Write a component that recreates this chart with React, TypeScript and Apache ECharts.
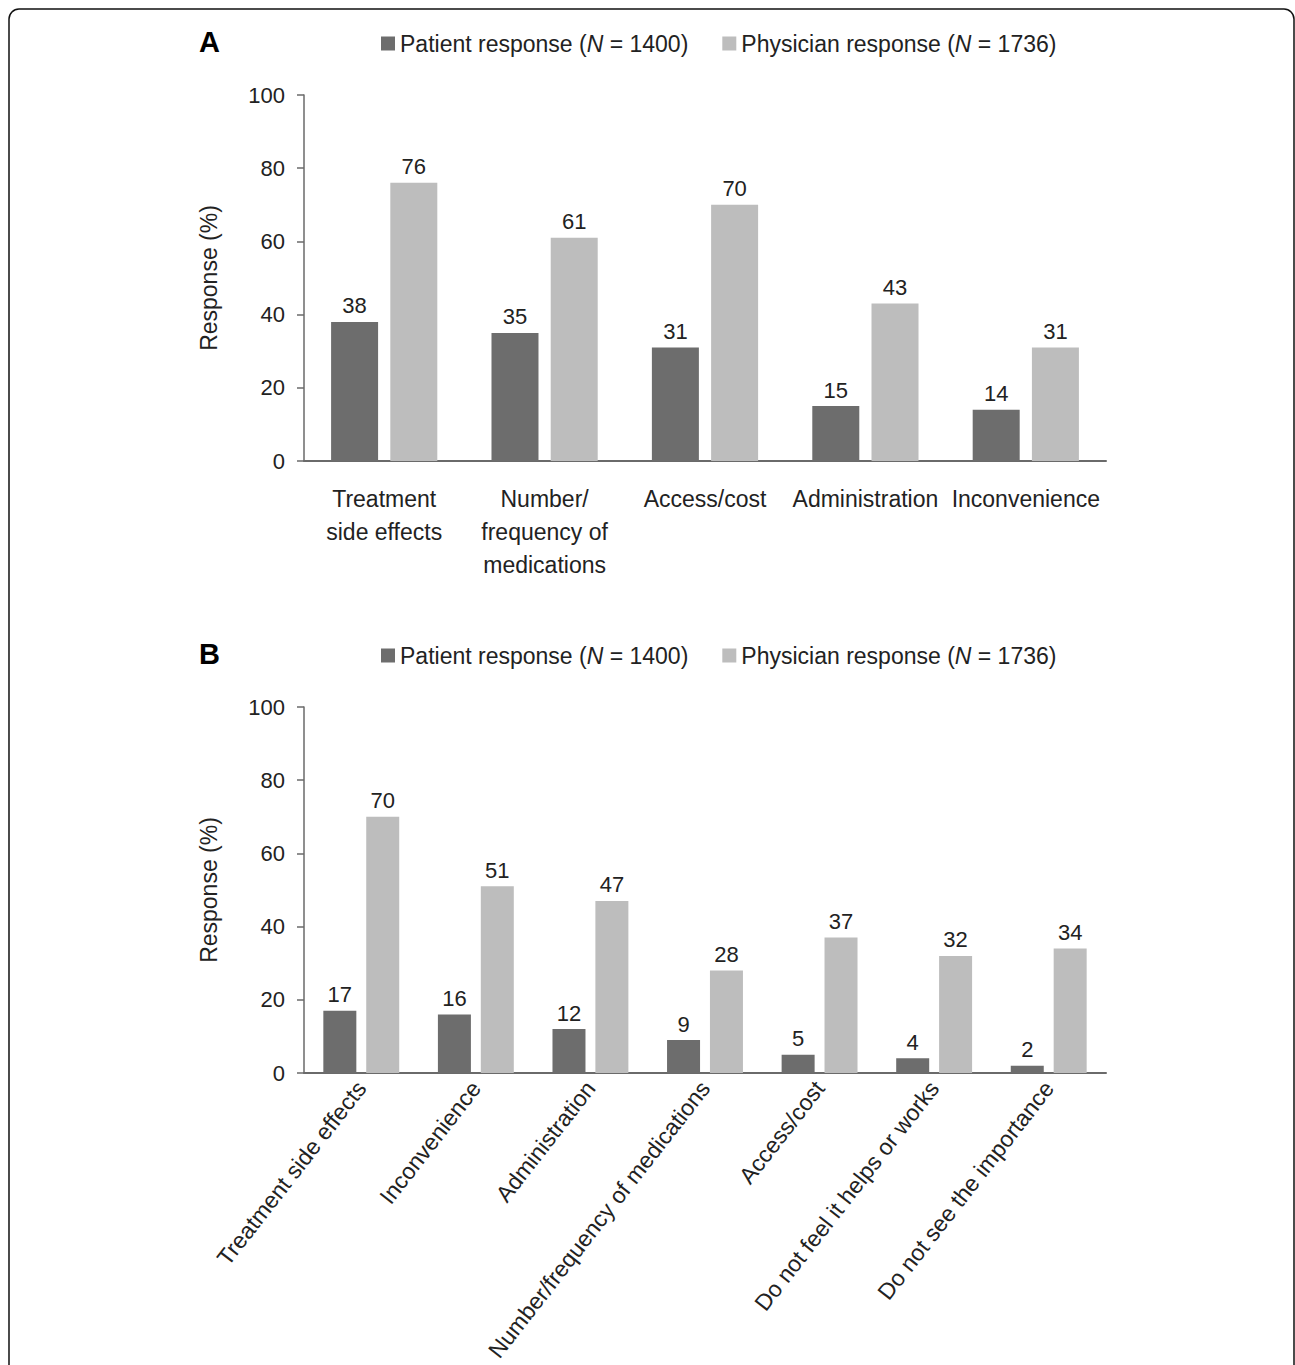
import React, { useEffect, useRef } from "react";
import * as echarts from "echarts";

const seriesNames = ["Patient response (N = 1400)", "Physician response (N = 1736)"];

const categoriesA = [
  "Treatment\nside effects",
  "Number/\nfrequency of\nmedications",
  "Access/cost",
  "Administration",
  "Inconvenience",
];
const patientA = [38, 35, 31, 15, 14];
const physicianA = [76, 61, 70, 43, 31];

const categoriesB = [
  "Treatment side effects",
  "Inconvenience",
  "Administration",
  "Number/frequency of medications",
  "Access/cost",
  "Do not feel it helps or works",
  "Do not see the importance",
];
const patientB = [17, 16, 12, 9, 5, 4, 2];
const physicianB = [70, 51, 47, 28, 37, 32, 34];

const yTicks = { min: 0, max: 100, interval: 20 };

const FONT = "Liberation Sans";
const TEXT = "#222";
const DARK = "#6d6d6d";
const LIGHT = "#bdbdbd";
const AXIS = "#6a6a6a";
const FS = 23;

export default function App() {
  const ref = useRef<HTMLDivElement>(null);
  useEffect(() => {
    document.body.style.margin = "0";
    const chart = echarts.init(ref.current!, null, { renderer: "svg" });
    const legendFormatter = (name: string) => {
      if (name === seriesNames[0]) return "{a|Patient response (}{i|N}{a| = 1400)}";
      return "{a|Physician response (}{i|N}{a| = 1736)}";
    };
    const legendBase = (top: number) => ({
      data: seriesNames,
      left: 376,
      top,
      icon: "rect",
      itemWidth: 14,
      itemHeight: 14,
      itemGap: 34,
      selectedMode: false,
      formatter: legendFormatter,
      textStyle: {
        fontFamily: FONT,
        fontSize: FS,
        color: TEXT,
        rich: {
          a: { fontFamily: FONT, fontSize: FS, color: TEXT },
          i: { fontFamily: FONT, fontSize: FS, color: TEXT, fontStyle: "italic" },
        },
      },
    });
    const yAxisBase = (gridIndex: number) => ({
      type: "value",
      gridIndex,
      min: yTicks.min,
      max: yTicks.max,
      interval: yTicks.interval,
      name: "Response (%)",
      nameLocation: "middle",
      nameGap: 84,
      nameTextStyle: { fontFamily: FONT, fontSize: FS, color: TEXT },
      axisLine: { show: true, lineStyle: { color: AXIS, width: 1.5 } },
      axisTick: { show: true, inside: false, length: 7, lineStyle: { color: AXIS, width: 1.5 } },
      axisLabel: { fontFamily: FONT, fontSize: 22, color: TEXT, margin: 19 },
      splitLine: { show: false },
    });
    const labelStyle = {
      show: true,
      position: "top",
      distance: 5,
      fontFamily: FONT,
      fontSize: 22,
      color: TEXT,
    };
    chart.setOption({
      animation: false,
      backgroundColor: "#fff",
      graphic: [
        {
          type: "rect",
          shape: { x: 9, y: 9, width: 1285, height: 1420, r: 10 },
          style: { fill: "none", stroke: "#111", lineWidth: 1.5 },
          silent: true,
        },
      ],
      title: [
        { text: "A", left: 194, top: 22, textStyle: { fontFamily: FONT, fontSize: 29, fontWeight: "bold", color: "#000" } },
        { text: "B", left: 194, top: 634, textStyle: { fontFamily: FONT, fontSize: 29, fontWeight: "bold", color: "#000" } },
      ],
      legend: [legendBase(27), legendBase(639)],
      grid: [
        { left: 304, width: 802, top: 95, height: 366, containLabel: false, outerBoundsMode: "none" },
        { left: 304, width: 802, top: 707, height: 366, containLabel: false, outerBoundsMode: "none" },
      ],
      xAxis: [
        {
          type: "category",
          gridIndex: 0,
          data: categoriesA,
          axisLine: { lineStyle: { color: AXIS, width: 2 } },
          axisTick: { show: false },
          axisLabel: { fontFamily: FONT, fontSize: FS, color: TEXT, margin: 21, lineHeight: 33, interval: 0 },
        },
        {
          type: "category",
          gridIndex: 1,
          data: categoriesB,
          axisLine: { lineStyle: { color: AXIS, width: 2 } },
          axisTick: { show: false },
          axisLabel: { fontFamily: FONT, fontSize: FS, color: TEXT, margin: 11, rotate: 52, interval: 0 },
        },
      ],
      yAxis: [yAxisBase(0), yAxisBase(1)],
      series: [
        {
          name: seriesNames[0],
          type: "bar",
          xAxisIndex: 0,
          yAxisIndex: 0,
          data: patientA,
          barWidth: 47,
          barGap: "26%",
          itemStyle: { color: DARK },
          label: labelStyle,
        },
        {
          name: seriesNames[1],
          type: "bar",
          xAxisIndex: 0,
          yAxisIndex: 0,
          data: physicianA,
          barWidth: 47,
          barGap: "26%",
          itemStyle: { color: LIGHT },
          label: labelStyle,
        },
        {
          name: seriesNames[0],
          type: "bar",
          xAxisIndex: 1,
          yAxisIndex: 1,
          data: patientB,
          barWidth: 33,
          barGap: "30%",
          itemStyle: { color: DARK },
          label: labelStyle,
        },
        {
          name: seriesNames[1],
          type: "bar",
          xAxisIndex: 1,
          yAxisIndex: 1,
          data: physicianB,
          barWidth: 33,
          barGap: "30%",
          itemStyle: { color: LIGHT },
          label: labelStyle,
        },
      ],
    });
    return () => chart.dispose();
  }, []);
  return (
    <div
      ref={ref}
      style={{ position: "absolute", left: 0, top: 0, width: 1295, height: 1365 }}
    />
  );
}
